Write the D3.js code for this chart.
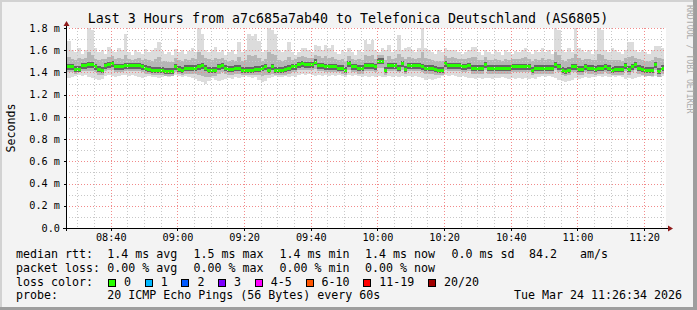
<!DOCTYPE html>
<html>
<head>
<meta charset="utf-8">
<script src="https://cdn.jsdelivr.net/npm/d3@7/dist/d3.min.js"></script>
<style>
  html, body { margin: 0; padding: 0; background: #f3f3f3; }
  svg { display: block; font-family: 'DejaVu Sans Mono', monospace; }
</style>
</head>
<body>
<div id="chart"></div>
<script>
// ---- data ----
const title = 'Last 3 Hours from a7c685a7ab40 to Telefonica Deutschland (AS6805)';
const yLabel = 'Seconds';
const watermark = 'RRDTOOL / TOBI OETIKER';
const rangeStart = '2026-03-24 08:26:34';
const rangeEnd = '2026-03-24 11:26:34';
const firstStep = '2026-03-24 08:26:00'; // one step per minute

const yTicks = [0, 0.2, 0.4, 0.6, 0.8, 1.0, 1.2, 1.4, 1.6, 1.8];
const yTickLabels = ['0.0', '0.2 m', '0.4 m', '0.6 m', '0.8 m', '1.0 m', '1.2 m', '1.4 m', '1.6 m', '1.8 m'];
const xTickLabels = ['08:40', '09:00', '09:20', '09:40', '10:00', '10:20', '10:40', '11:00', '11:20'];

// median rtt (ms) per minute
const rttMedian = [
  1.45,1.45,1.45,1.43,1.43,1.46,1.46,1.47,1.47,1.45,
  1.43,1.42,1.46,1.47,1.48,1.45,1.45,1.45,1.46,1.46,
  1.46,1.46,1.46,1.45,1.44,1.43,1.42,1.42,1.42,1.42,
  1.41,1.41,1.41,1.45,1.43,1.42,1.44,1.44,1.44,1.44,
  1.45,1.46,1.44,1.42,1.42,1.42,1.45,1.46,1.44,1.43,
  1.43,1.44,1.44,1.42,1.42,1.42,1.42,1.43,1.43,1.44,
  1.45,1.42,1.45,1.42,1.42,1.42,1.43,1.44,1.45,1.45,
  1.47,1.48,1.47,1.47,1.47,1.49,1.46,1.46,1.45,1.45,
  1.45,1.45,1.44,1.44,1.42,1.48,1.45,1.45,1.44,1.44,
  1.46,1.46,1.46,1.45,1.50,1.50,1.42,1.46,1.46,1.46,
  1.44,1.48,1.43,1.46,1.46,1.46,1.46,1.45,1.44,1.44,
  1.44,1.43,1.42,1.42,1.48,1.46,1.46,1.46,1.46,1.45,
  1.45,1.46,1.44,1.44,1.44,1.44,1.47,1.44,1.44,1.44,
  1.44,1.44,1.44,1.44,1.45,1.45,1.45,1.45,1.45,1.45,
  1.42,1.44,1.44,1.44,1.44,1.44,1.44,1.47,1.45,1.42,
  1.41,1.42,1.45,1.45,1.43,1.43,1.45,1.44,1.44,1.43,
  1.44,1.44,1.45,1.44,1.42,1.43,1.43,1.43,1.46,1.43,
  1.45,1.47,1.44,1.43,1.42,1.42,1.42,1.47,1.41,1.44
];
// slowest ping per minute
const rttMax = [
  1.71,1.68,1.60,1.58,1.62,1.57,1.60,1.80,1.78,1.62,
  1.58,1.60,1.57,1.63,1.59,1.58,1.62,1.60,1.75,1.58,
  1.56,1.60,1.58,1.57,1.61,1.58,1.60,1.62,1.67,1.59,
  1.57,1.58,1.56,1.61,1.58,1.60,1.57,1.59,1.62,1.58,
  1.80,1.75,1.60,1.58,1.60,1.63,1.58,1.60,1.56,1.58,
  1.60,1.57,1.67,1.58,1.60,1.75,1.73,1.75,1.68,1.58,
  1.60,1.80,1.78,1.75,1.60,1.58,1.60,1.67,1.58,1.56,
  1.58,1.62,1.62,1.60,1.58,1.65,1.64,1.60,1.65,1.62,
  1.65,1.58,1.57,1.60,1.58,1.62,1.58,1.56,1.60,1.58,
  1.69,1.66,1.69,1.60,1.58,1.62,1.60,1.65,1.58,1.60,
  1.74,1.60,1.62,1.63,1.60,1.58,1.62,1.80,1.62,1.60,
  1.58,1.57,1.60,1.58,1.62,1.60,1.60,1.60,1.58,1.57,
  1.58,1.60,1.63,1.63,1.58,1.56,1.60,1.58,1.57,1.60,
  1.58,1.56,1.60,1.58,1.57,1.59,1.58,1.60,1.62,1.58,
  1.57,1.60,1.58,1.62,1.58,1.60,1.57,1.80,1.78,1.60,
  1.58,1.62,1.58,1.80,1.62,1.60,1.58,1.60,1.57,1.60,
  1.80,1.78,1.60,1.58,1.62,1.60,1.58,1.57,1.60,1.67,
  1.67,1.60,1.58,1.60,1.58,1.57,1.60,1.64,1.64,1.62
];
// upper edge of the dense part of the smoke
const rttHigh = [
  1.55,1.54,1.52,1.51,1.53,1.52,1.53,1.58,1.56,1.52,
  1.51,1.52,1.52,1.54,1.55,1.52,1.53,1.52,1.56,1.52,
  1.51,1.52,1.53,1.51,1.52,1.51,1.50,1.52,1.54,1.50,
  1.50,1.49,1.49,1.53,1.51,1.50,1.52,1.51,1.53,1.52,
  1.58,1.56,1.53,1.52,1.51,1.53,1.52,1.53,1.51,1.50,
  1.51,1.50,1.54,1.50,1.51,1.56,1.55,1.56,1.53,1.50,
  1.52,1.58,1.57,1.56,1.51,1.50,1.51,1.54,1.51,1.52,
  1.54,1.55,1.54,1.53,1.53,1.56,1.55,1.53,1.55,1.53,
  1.54,1.52,1.51,1.52,1.50,1.55,1.52,1.51,1.52,1.51,
  1.56,1.55,1.56,1.52,1.56,1.56,1.51,1.55,1.52,1.53,
  1.57,1.54,1.52,1.54,1.53,1.52,1.53,1.58,1.53,1.52,
  1.51,1.50,1.50,1.50,1.55,1.53,1.54,1.53,1.52,1.52,
  1.52,1.53,1.54,1.54,1.51,1.51,1.54,1.51,1.51,1.52,
  1.51,1.50,1.52,1.51,1.52,1.52,1.52,1.53,1.54,1.52,
  1.50,1.52,1.51,1.53,1.51,1.52,1.51,1.58,1.56,1.51,
  1.50,1.52,1.53,1.57,1.53,1.51,1.52,1.52,1.51,1.51,
  1.57,1.56,1.52,1.51,1.51,1.51,1.51,1.50,1.53,1.54,
  1.55,1.53,1.52,1.51,1.50,1.50,1.51,1.54,1.53,1.52
];
// lower edge of the dense part of the smoke
const rttLow = [
  1.40,1.40,1.40,1.39,1.40,1.41,1.41,1.41,1.41,1.40,
  1.38,1.38,1.41,1.42,1.42,1.40,1.40,1.40,1.41,1.41,
  1.41,1.41,1.41,1.40,1.39,1.39,1.38,1.38,1.38,1.38,
  1.37,1.37,1.37,1.40,1.39,1.38,1.39,1.39,1.39,1.39,
  1.38,1.37,1.36,1.36,1.37,1.37,1.39,1.40,1.39,1.38,
  1.38,1.39,1.39,1.38,1.38,1.38,1.38,1.38,1.38,1.37,
  1.38,1.38,1.39,1.38,1.38,1.38,1.38,1.39,1.40,1.40,
  1.42,1.42,1.42,1.42,1.42,1.43,1.41,1.41,1.40,1.40,
  1.40,1.40,1.40,1.39,1.38,1.42,1.40,1.40,1.39,1.39,
  1.41,1.41,1.41,1.40,1.44,1.44,1.38,1.41,1.41,1.41,
  1.40,1.42,1.39,1.41,1.41,1.41,1.41,1.40,1.39,1.39,
  1.39,1.38,1.38,1.38,1.42,1.41,1.41,1.41,1.41,1.40,
  1.40,1.41,1.39,1.39,1.39,1.39,1.42,1.39,1.39,1.39,
  1.39,1.39,1.39,1.39,1.40,1.40,1.40,1.40,1.40,1.40,
  1.38,1.39,1.39,1.39,1.39,1.39,1.39,1.42,1.40,1.38,
  1.37,1.38,1.40,1.40,1.38,1.38,1.40,1.39,1.39,1.38,
  1.39,1.39,1.40,1.39,1.38,1.38,1.38,1.38,1.41,1.38,
  1.40,1.42,1.39,1.38,1.37,1.37,1.37,1.42,1.36,1.39
];
// fastest ping per minute
const rttMin = [
  1.36,1.35,1.36,1.37,1.38,1.37,1.38,1.36,1.35,1.34,
  1.33,1.34,1.37,1.38,1.37,1.36,1.37,1.38,1.38,1.37,
  1.38,1.37,1.36,1.35,1.36,1.37,1.36,1.36,1.35,1.36,
  1.37,1.36,1.37,1.38,1.37,1.36,1.37,1.36,1.35,1.34,
  1.32,1.31,1.30,1.32,1.35,1.33,1.32,1.33,1.34,1.35,
  1.34,1.36,1.35,1.36,1.37,1.36,1.35,1.36,1.33,1.31,
  1.32,1.35,1.36,1.37,1.36,1.36,1.37,1.36,1.37,1.36,
  1.38,1.39,1.38,1.39,1.38,1.37,1.38,1.37,1.38,1.37,
  1.38,1.37,1.38,1.37,1.36,1.38,1.37,1.38,1.37,1.36,
  1.37,1.36,1.37,1.36,1.37,1.36,1.36,1.37,1.36,1.37,
  1.36,1.37,1.36,1.37,1.36,1.37,1.36,1.35,1.33,1.34,
  1.33,1.34,1.35,1.37,1.38,1.37,1.38,1.37,1.36,1.37,
  1.36,1.35,1.35,1.34,1.35,1.34,1.35,1.35,1.34,1.35,
  1.35,1.36,1.35,1.34,1.35,1.34,1.35,1.34,1.35,1.34,
  1.35,1.34,1.36,1.37,1.36,1.37,1.36,1.35,1.33,1.32,
  1.31,1.32,1.33,1.35,1.34,1.35,1.36,1.35,1.36,1.36,
  1.37,1.36,1.37,1.36,1.37,1.36,1.37,1.36,1.34,1.35,
  1.34,1.35,1.36,1.37,1.36,1.37,1.36,1.37,1.36,1.37
];

// legend
const rttStats = ['1.4 ms avg', '1.5 ms max', '1.4 ms min', '1.4 ms now', '0.0 ms sd', '84.2', 'am/s'];
const lossStats = ['0.00 % avg', '0.00 % max', '0.00 % min', '0.00 % now'];
const lossBins = ['0', '1', '2', '3', '4-5', '6-10', '11-19', '20/20'];
const lossColors = ['#26ff00', '#00b8ff', '#0059ff', '#7e00ff', '#ff00ff', '#ff5500', '#ff0000', '#a10000'];
const probeText = '20 ICMP Echo Pings (56 Bytes) every 60s';
const stampText = 'Tue Mar 24 11:26:34 2026';

// ---- chart ----
const W = 697;
const H = 310;
const plotLeft = 66;
const plotRight = 666;
const plotTop = 28;
const plotBottom = 228;
const charW = 7; // legend monospace advance

const parse = d3.timeParse('%Y-%m-%d %H:%M:%S');
const parseHM = d3.timeParse('%Y-%m-%d %H:%M');
const day = rangeStart.slice(0, 10);

const scaleX = d3.scaleTime()
  .domain([parse(rangeStart), parse(rangeEnd)])
  .range([plotLeft, plotRight]);
const scaleY = d3.scaleLinear()
  .domain([0, 1.8])
  .range([plotBottom, plotTop]);

const t0 = parse(firstStep);
const steps = rttMedian.map((m, i) => ({
  t: d3.timeMinute.offset(t0, i),
  t1: d3.timeMinute.offset(t0, i + 1),
  median: m,
  max: rttMax[i],
  hi: rttHigh[i],
  lo: rttLow[i],
  min: rttMin[i]
}));

const $svg = d3.select('#chart').append('svg')
  .attr('width', W)
  .attr('height', H);

// frame
$svg.append('rect').attr('width', W).attr('height', H).attr('fill', '#f3f3f3');
$svg.append('rect').attr('width', W).attr('height', 2).attr('fill', '#d2d2d2');
$svg.append('rect').attr('width', 2).attr('height', H).attr('fill', '#d2d2d2');
$svg.append('rect').attr('x', W - 4).attr('width', 4).attr('height', H).attr('fill', '#9e9e9e');
$svg.append('rect').attr('y', H - 3).attr('width', W).attr('height', 3).attr('fill', '#9e9e9e');

// canvas
$svg.append('rect')
  .attr('x', plotLeft + 1).attr('y', plotTop)
  .attr('width', plotRight - plotLeft - 1).attr('height', plotBottom - plotTop)
  .attr('fill', '#fff');

$svg.append('clipPath').attr('id', 'plot-clip')
  .append('rect')
  .attr('x', plotLeft + 1).attr('y', plotTop - 1)
  .attr('width', plotRight - plotLeft - 1).attr('height', plotBottom - plotTop + 1);

const $vis = $svg.append('g').attr('clip-path', 'url(#plot-clip)');

function band(key0, key1, color) {
  $vis.append('g')
    .attr('shape-rendering', 'crispEdges')
    .selectAll('rect')
    .data(steps)
    .join('rect')
    .attr('x', d => scaleX(d.t))
    .attr('width', d => scaleX(d.t1) - scaleX(d.t))
    .attr('y', d => scaleY(d[key1]))
    .attr('height', d => scaleY(d[key0]) - scaleY(d[key1]))
    .attr('fill', color);
}

// smoke
band('min', 'max', '#dcdcdc');
band('lo', 'hi', '#b6b6b6');

// dark core + median, coloured by loss (all 0 here)
$vis.append('g')
  .attr('shape-rendering', 'crispEdges')
  .selectAll('rect')
  .data(steps)
  .join('rect')
  .attr('x', d => scaleX(d.t))
  .attr('width', d => scaleX(d.t1) - scaleX(d.t))
  .attr('y', d => scaleY(d.median) - 3)
  .attr('height', 6)
  .attr('fill', '#666');

$vis.append('g')
  .attr('shape-rendering', 'crispEdges')
  .selectAll('rect')
  .data(steps)
  .join('rect')
  .attr('x', d => scaleX(d.t))
  .attr('width', d => scaleX(d.t1) - scaleX(d.t))
  .attr('y', d => scaleY(d.median) - 1.5)
  .attr('height', 3)
  .attr('fill', lossColors[0]);

// grid
const $grid = $svg.append('g').attr('shape-rendering', 'crispEdges');
const xMajor = xTickLabels.map(s => parseHM(`${day} ${s}`));
const xMinor = d3.timeMinute.every(5).range(scaleX.domain()[0], scaleX.domain()[1])
  .filter(t => t.getMinutes() % 20 !== 0);
const yMinor = d3.range(1, 18, 2).map(k => k / 10);

$grid.selectAll('.gx-minor').data(xMinor).join('line')
  .attr('x1', d => Math.round(scaleX(d)) + 0.5).attr('x2', d => Math.round(scaleX(d)) + 0.5)
  .attr('y1', plotTop).attr('y2', plotBottom)
  .attr('stroke', '#c8c8c8').attr('stroke-dasharray', '1,2');
$grid.selectAll('.gy-minor').data(yMinor).join('line')
  .attr('y1', d => Math.round(scaleY(d)) + 0.5).attr('y2', d => Math.round(scaleY(d)) + 0.5)
  .attr('x1', plotLeft).attr('x2', plotRight)
  .attr('stroke', '#c8c8c8').attr('stroke-dasharray', '1,2');
$grid.selectAll('.gx-major').data(xMajor).join('line')
  .attr('x1', d => Math.round(scaleX(d)) + 0.5).attr('x2', d => Math.round(scaleX(d)) + 0.5)
  .attr('y1', plotTop).attr('y2', plotBottom)
  .attr('stroke', '#f28a8a').attr('stroke-dasharray', '1,2');
$grid.selectAll('.gy-major').data(yTicks.slice(1)).join('line')
  .attr('y1', d => Math.round(scaleY(d)) + 0.5).attr('y2', d => Math.round(scaleY(d)) + 0.5)
  .attr('x1', plotLeft).attr('x2', plotRight)
  .attr('stroke', '#f28a8a').attr('stroke-dasharray', '1,2');

// axes
const $axis = $svg.append('g').attr('shape-rendering', 'crispEdges');
$axis.append('line')
  .attr('x1', plotLeft + 0.5).attr('x2', plotLeft + 0.5)
  .attr('y1', plotBottom + 3).attr('y2', plotTop - 3)
  .attr('stroke', '#000');
$axis.append('line')
  .attr('x1', plotLeft - 3).attr('x2', plotRight + 3)
  .attr('y1', plotBottom + 0.5).attr('y2', plotBottom + 0.5)
  .attr('stroke', '#000');
$axis.selectAll('.ty').data(yTicks).join('line')
  .attr('x1', plotLeft - 2).attr('x2', plotLeft)
  .attr('y1', d => Math.round(scaleY(d)) + 0.5).attr('y2', d => Math.round(scaleY(d)) + 0.5)
  .attr('stroke', '#000');
$axis.selectAll('.tx').data(xMajor).join('line')
  .attr('x1', d => Math.round(scaleX(d)) + 0.5).attr('x2', d => Math.round(scaleX(d)) + 0.5)
  .attr('y1', plotBottom).attr('y2', plotBottom + 3)
  .attr('stroke', '#000');

// arrows
$svg.append('path')
  .attr('d', `M${plotLeft - 2.5},${plotTop - 2} L${plotLeft + 3.5},${plotTop - 2} L${plotLeft + 0.5},${plotTop - 7} Z`)
  .attr('fill', '#8f1a1a');
$svg.append('path')
  .attr('d', `M${plotRight + 2},${plotBottom - 2.5} L${plotRight + 2},${plotBottom + 3.5} L${plotRight + 7},${plotBottom + 0.5} Z`)
  .attr('fill', '#8f1a1a');

// tick labels
$svg.append('g').selectAll('text').data(yTicks).join('text')
  .attr('x', 60)
  .attr('y', d => scaleY(d) + 3.7)
  .attr('text-anchor', 'end')
  .attr('font-size', '10.2px')
  .text((d, i) => yTickLabels[i]);

$svg.append('g').selectAll('text').data(xMajor).join('text')
  .attr('x', d => scaleX(d) + 0.5)
  .attr('y', 240.7)
  .attr('text-anchor', 'middle')
  .attr('font-size', '10.2px')
  .text((d, i) => xTickLabels[i]);

// titles
$svg.append('text')
  .attr('x', 348).attr('y', 23)
  .attr('text-anchor', 'middle')
  .attr('font-size', '13.3px')
  .text(title);

$svg.append('text')
  .attr('transform', `translate(14.5, ${(plotTop + plotBottom) / 2}) rotate(-90)`)
  .attr('text-anchor', 'middle')
  .attr('font-size', '11.6px')
  .text(yLabel);

$svg.append('text')
  .attr('transform', 'translate(686.5, 5) rotate(90)')
  .attr('font-size', '8.2px')
  .attr('fill', '#ababab')
  .text(watermark);

// legend
const legendX = 16;
const colX = [107.3, 193.5, 279.5, 365, 451.5, 529, 580];
const rowY = [257.7, 271.7, 285.5, 299];
const $legend = $svg.append('g').attr('font-size', '11.63px').attr('fill', '#000');

$legend.append('text').attr('x', legendX).attr('y', rowY[0]).text('median rtt:');
rttStats.forEach((s, i) => {
  $legend.append('text').attr('x', colX[i]).attr('y', rowY[0]).text(s);
});

$legend.append('text').attr('x', legendX).attr('y', rowY[1]).text('packet loss:');
lossStats.forEach((s, i) => {
  $legend.append('text').attr('x', colX[i]).attr('y', rowY[1]).text(s);
});

$legend.append('text').attr('x', legendX).attr('y', rowY[2]).text('loss color:');
let bx = 108.5;
lossBins.forEach((s, i) => {
  $legend.append('rect')
    .attr('x', bx).attr('y', rowY[2] - 6.5)
    .attr('width', 7).attr('height', 7)
    .attr('fill', lossColors[i])
    .attr('stroke', '#000')
    .attr('shape-rendering', 'crispEdges');
  $legend.append('text').attr('x', bx + 15.5).attr('y', rowY[2]).text(s);
  bx += 30 + s.length * charW - 0.3;
});

$legend.append('text').attr('x', legendX).attr('y', rowY[3]).text('probe:');
$legend.append('text').attr('x', colX[0]).attr('y', rowY[3]).text(probeText);
$legend.append('text').attr('x', 682).attr('y', rowY[3]).attr('text-anchor', 'end').text(stampText);
</script>
</body>
</html>
